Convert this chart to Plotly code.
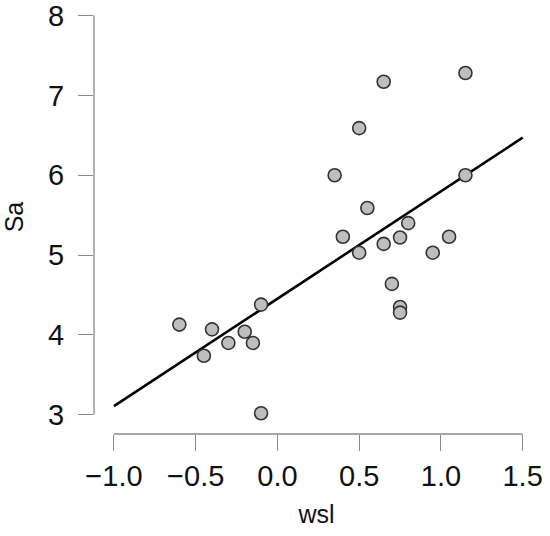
# %% Imports
import plotly.graph_objs as go

# %% Data
wsl = [-0.60, -0.45, -0.40, -0.30, -0.20, -0.15, -0.10, -0.10,
       0.35, 0.50, 0.40, 0.50, 0.55, 0.65, 0.65, 0.70,
       0.75, 0.80, 0.75, 0.75, 0.95, 1.05, 1.15, 1.15]
sa = [4.13, 3.74, 4.07, 3.90, 4.04, 3.90, 4.38, 3.02,
      6.00, 6.59, 5.23, 5.03, 5.59, 7.17, 5.14, 4.64,
      5.22, 5.40, 4.35, 4.28, 5.03, 5.23, 7.28, 6.00]

# fitted line, end points
fit_x = [-1.0, 1.5]
fit_y = [3.11, 6.47]

x_ticks = [-1.0, -0.5, 0.0, 0.5, 1.0, 1.5]
x_labels = ["\u22121.0", "\u22120.5", "0.0", "0.5", "1.0", "1.5"]
y_ticks = [3, 4, 5, 6, 7, 8]

axis_grey = "#8a8a8a"
font = "Liberation Sans, Arial, sans-serif"

# %% Figure
fig = go.Figure()
fig.add_trace(go.Scatter(x=fit_x, y=fit_y, mode="lines",
                         line={"color": "black", "width": 2.6},
                         showlegend=False))
fig.add_trace(go.Scatter(x=wsl, y=sa, mode="markers",
                         marker={"size": 13, "color": "#bebebe",
                                 "line": {"color": "#333333", "width": 1.6}},
                         showlegend=False))

# R style axis lines, only between first and last tick
fig.add_shape(type="line", xref="paper", yref="y", x0=0, x1=0, y0=3, y1=8,
              line={"color": axis_grey, "width": 1.3})
fig.add_shape(type="line", xref="x", yref="paper", x0=-1, x1=1.5, y0=0, y1=0,
              line={"color": axis_grey, "width": 1.3})

fig.update_layout(width=550, height=536,
                  margin={"l": 94, "r": 11, "t": 0, "b": 102,
                          "autoexpand": False},
                  plot_bgcolor="white", paper_bgcolor="white",
                  font={"family": font, "color": "#111111"})

fig.update_xaxes(range=[-1.122, 1.6], showgrid=False, zeroline=False,
                 showline=False, tickvals=x_ticks, ticktext=x_labels,
                 ticks="outside", ticklen=16, tickwidth=1.3,
                 tickcolor=axis_grey, tickfont={"size": 29},
                 ticklabelstandoff=0, automargin=False,
                 ticklabeloverflow="allow",
                 title={"text": "wsl", "font": {"size": 25}, "standoff": 14})
fig.update_yaxes(range=[2.76, 8.194], showgrid=False, zeroline=False,
                 showline=False, tickvals=y_ticks,
                 ticks="outside", ticklen=15, tickwidth=1.3,
                 tickcolor=axis_grey, tickfont={"size": 29},
                 ticklabelstandoff=8, automargin=False,
                 ticklabeloverflow="allow",
                 title={"text": "Sa", "font": {"size": 25}, "standoff": 20})

fig.write_html("out.html", config={"displayModeBar": False})

# the page body has a default margin, drop it so the figure sits at 0,0
with open("out.html", encoding="utf-8") as f:
    page = f.read()
page = page.replace("<body>", '<body style="margin:0">', 1)
with open("out.html", "w", encoding="utf-8") as f:
    f.write(page)
